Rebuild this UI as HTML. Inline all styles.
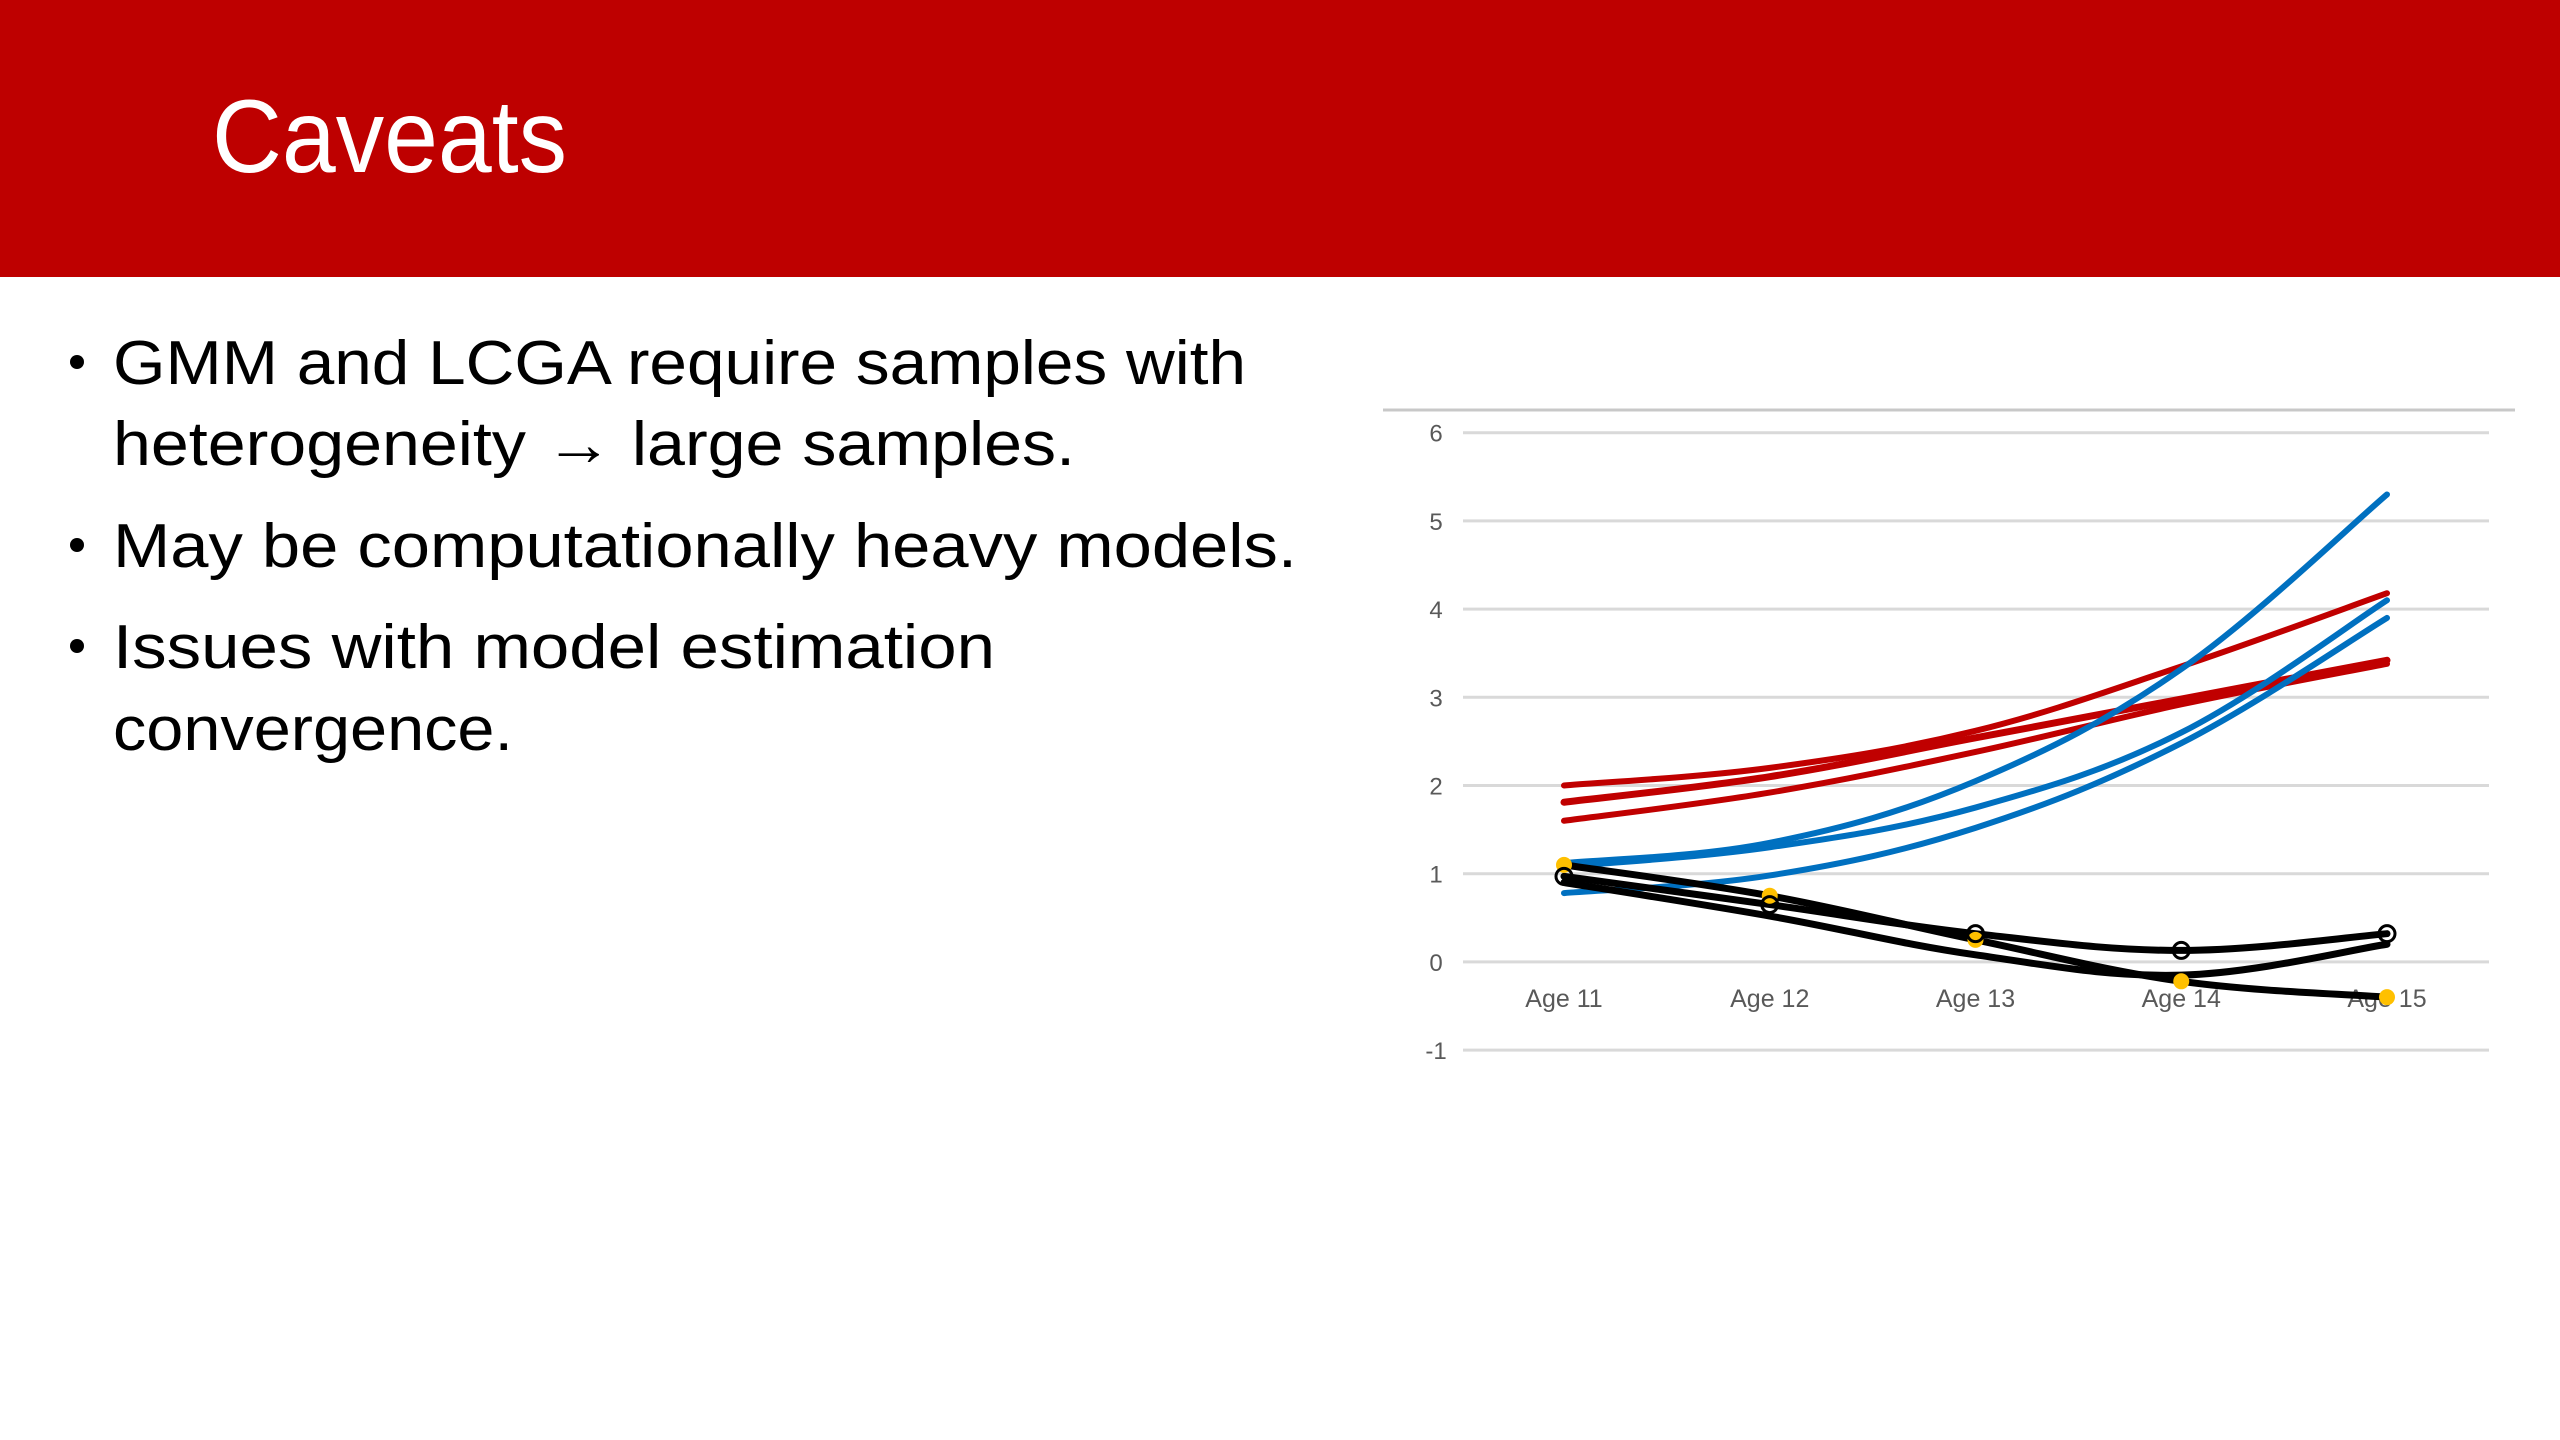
<!DOCTYPE html>
<html><head><meta charset="utf-8"><style>
html,body{margin:0;padding:0;width:2560px;height:1440px;overflow:hidden;background:#fff;}
svg{display:block;font-family:"Liberation Sans",sans-serif;}
</style></head><body>
<svg id="slide" width="2560" height="1440" viewBox="0 0 2560 1440">
<rect x="0" y="0" width="2560" height="277" fill="#BE0000"/>
<text x="212" y="172" font-size="104" fill="#fff" textLength="355" lengthAdjust="spacingAndGlyphs">Caveats</text>
<g font-size="62" fill="#000">
<circle cx="77" cy="362" r="7" fill="#000"/>
<text x="113" y="384" textLength="1133" lengthAdjust="spacingAndGlyphs">GMM and LCGA require samples with</text>
<text x="113" y="465" textLength="962" lengthAdjust="spacingAndGlyphs">heterogeneity → large samples.</text>
<circle cx="77" cy="545" r="7" fill="#000"/>
<text x="113" y="567" textLength="1184" lengthAdjust="spacingAndGlyphs">May be computationally heavy models.</text>
<circle cx="77" cy="646" r="7" fill="#000"/>
<text x="113" y="668" textLength="882" lengthAdjust="spacingAndGlyphs">Issues with model estimation</text>
<text x="113" y="750" textLength="400" lengthAdjust="spacingAndGlyphs">convergence.</text>
</g>
<line x1="1383" y1="410" x2="2515" y2="410" stroke="#c8c8c8" stroke-width="3"/>
<g id="chart"></g>
</svg>
<script>
const categories = ["Age 11","Age 12","Age 13","Age 14","Age 15"];
const yTicks = [-1,0,1,2,3,4,5,6];
const red1 = [2.0,2.2,2.62,3.35,4.18];
const red2 = [1.81,2.1,2.54,2.98,3.42];
const red3 = [1.6,1.92,2.38,2.92,3.38];
const blue1 = [1.12,1.35,2.05,3.32,5.3];
const blue2 = [1.08,1.3,1.75,2.6,4.1];
const blue3 = [0.78,0.98,1.52,2.48,3.9];
const black1 = [0.97,0.65,0.32,0.13,0.32];
const black2 = [1.1,0.75,0.25,-0.22,-0.4];
const black3 = [0.9,0.52,0.08,-0.15,0.2];

const NS = "http://www.w3.org/2000/svg";
const g = document.getElementById("chart");
const plotL = 1463, plotR = 2489;
const yTop = 432.7, unit = 88.2; // 6 at yTop
function yScale(v){ return yTop + (6 - v) * unit; }
function xScale(i){ return 1564 + i * (2387 - 1564) / (categories.length - 1); }
function mk(tag, attrs){ const e = document.createElementNS(NS, tag); for (const k in attrs) e.setAttribute(k, attrs[k]); g.appendChild(e); return e; }

yTicks.forEach(t => {
  const y = yScale(t);
  const l = mk("line", {x1: plotL, x2: plotR, y1: y, y2: y, stroke: "#d9d9d9", "stroke-width": 3});
  
  
  const tx = mk("text", {x: 1436, y: y + 9, "text-anchor": "middle", "font-size": 24, fill: "#595959"});
  tx.textContent = String(t);
  
  
});
categories.forEach((c, i) => {
  const tx = mk("text", {x: xScale(i), y: 1007, "text-anchor": "middle", "font-size": 25, fill: "#595959"});
  tx.textContent = c;
  
  
});

function smoothPath(vals){
  const p = vals.map((v, i) => [xScale(i), yScale(v)]);
  let d = "M" + p[0][0] + "," + p[0][1];
  for (let i = 0; i < p.length - 1; i++) {
    const p0 = p[Math.max(i - 1, 0)], p1 = p[i], p2 = p[i + 1], p3 = p[Math.min(i + 2, p.length - 1)];
    const t = 0.18;
    const c1 = [p1[0] + (p2[0] - p0[0]) * t, p1[1] + (p2[1] - p0[1]) * t];
    const c2 = [p2[0] - (p3[0] - p1[0]) * t, p2[1] - (p3[1] - p1[1]) * t];
    d += " C" + c1[0] + "," + c1[1] + " " + c2[0] + "," + c2[1] + " " + p2[0] + "," + p2[1];
  }
  return d;
}
const series = [
  [red1, "#C00000", 6, "red-line-1"], [red2, "#C00000", 7, "red-line-2"], [red3, "#C00000", 6, "red-line-3"],
  [blue1, "#0070C0", 6, "blue-line-1"], [blue2, "#0070C0", 6, "blue-line-2"], [blue3, "#0070C0", 6, "blue-line-3"],
  [black1, "#000", 7, "black-line-1"], [black2, "#000", 7, "black-line-2"], [black3, "#000", 7, "black-line-3"]
];
series.forEach(s => {
  const p = mk("path", {d: smoothPath(s[0]), fill: "none", stroke: s[1], "stroke-width": s[2], "stroke-linecap": "round", "stroke-linejoin": "round"});
  
  
});
black2.forEach((v, i) => {
  const c = mk("circle", {cx: xScale(i), cy: yScale(v), r: 8, fill: "#FFC000"});
  
  
});
black1.forEach((v, i) => {
  const c = mk("circle", {cx: xScale(i), cy: yScale(v), r: 8, fill: "none", stroke: "#000", "stroke-width": 3});
  
  
});
</script>
</body></html>
